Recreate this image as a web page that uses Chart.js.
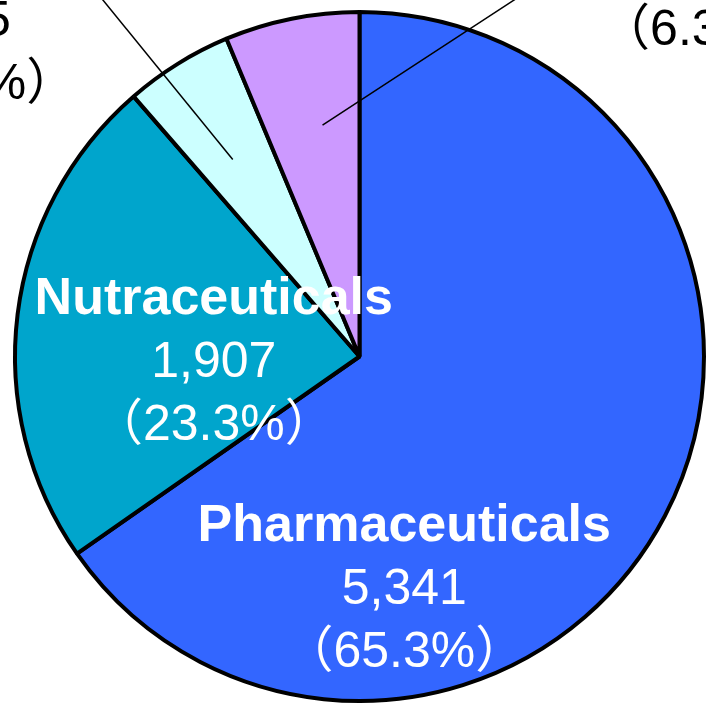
<!DOCTYPE html>
<html>
<head>
<meta charset="utf-8">
<script src="https://cdn.jsdelivr.net/npm/chart.js@4.4.1/dist/chart.umd.min.js"></script>
<style>
  html, body { margin: 0; padding: 0; background: #fff; overflow: hidden; }
  canvas { display: block; }
</style>
</head>
<body>
<canvas id="shareChart" width="706" height="704"></canvas>
<script>
// segments, clockwise from 12 o'clock
const categories = ['Pharmaceuticals', 'Nutraceuticals', 'Cosmetics', 'Others'];
const values = [5341, 1907, 415, 516];
const sliceColors = ['#3366FF', '#00A5CC', '#CCFFFF', '#CC99FF'];

// label placement, in units of the pie radius from its centre
// inside: true -> white text on the slice, false -> black text with a leader line
// lead.at = where along the slice the leader starts (0 = start angle, 1 = end angle)
const labelSpots = [
  { x: 0.13, y: 0.536, inside: true },
  { x: -0.423, y: -0.122, inside: true },
  { x: -1.133, y: -1.113, inside: false, lead: { at: 0.45, x: -0.745, y: -1.035 } },
  { x: 1.009, y: -1.27, inside: false, lead: { at: 0.6, x: 0.449, y: -1.035 } }
];

const total = values.reduce((a, b) => a + b, 0);

const pieLabels = {
  id: 'pieLabels',
  afterDatasetsDraw(chart) {
    const ctx = chart.ctx;
    const arcs = chart.getDatasetMeta(0).data;
    const lineGap = 63;
    const fontFam = '"Liberation Sans", Arial, "Noto Sans CJK JP", sans-serif';

    arcs.forEach((arc, i) => {
      const spot = labelSpots[i];
      const r = arc.outerRadius;
      const cx = arc.x;
      const cy = arc.y;

      // leader line from inside the slice out to the label
      if (spot.lead) {
        const a = arc.startAngle + (arc.endAngle - arc.startAngle) * spot.lead.at;
        const sx = cx + Math.cos(a) * r * 0.68;
        const sy = cy + Math.sin(a) * r * 0.68;
        const ex = cx + spot.lead.x * r;
        const ey = cy + spot.lead.y * r;
        ctx.save();
        ctx.strokeStyle = '#000';
        ctx.lineWidth = 1.5;
        ctx.beginPath();
        ctx.moveTo(sx, sy);
        ctx.lineTo(ex + (ex - sx) * 0.3, ey + (ey - sy) * 0.3);
        ctx.stroke();
        ctx.restore();
      }

      const pct = (values[i] / total * 100).toFixed(1);
      const lines = [
        { text: categories[i], bold: true },
        { text: values[i].toLocaleString('en-US'), bold: false },
        { text: '\uFF08' + pct + '%\uFF09', bold: false }
      ];

      ctx.save();
      ctx.fillStyle = spot.inside ? '#fff' : '#000';
      ctx.textAlign = 'center';
      ctx.textBaseline = 'alphabetic';
      const lx = cx + spot.x * r;
      const ly = cy + spot.y * r;
      lines.forEach((ln, k) => {
        ctx.font = (ln.bold ? 'bold 52px ' : '50px ') + fontFam;
        ctx.fillText(ln.text, lx, ly + k * lineGap);
      });
      ctx.restore();
    });
  }
};

new Chart(document.getElementById('shareChart'), {
  type: 'pie',
  data: {
    labels: categories,
    datasets: [{
      data: values,
      backgroundColor: sliceColors,
      borderColor: '#000',
      borderWidth: 4
    }]
  },
  options: {
    responsive: false,
    animation: false,
    layout: {
      padding: { left: 13, right: 0, top: 10, bottom: 1 }
    },
    plugins: {
      legend: { display: false },
      tooltip: { enabled: false }
    }
  },
  plugins: [pieLabels]
});
</script>
</body>
</html>
